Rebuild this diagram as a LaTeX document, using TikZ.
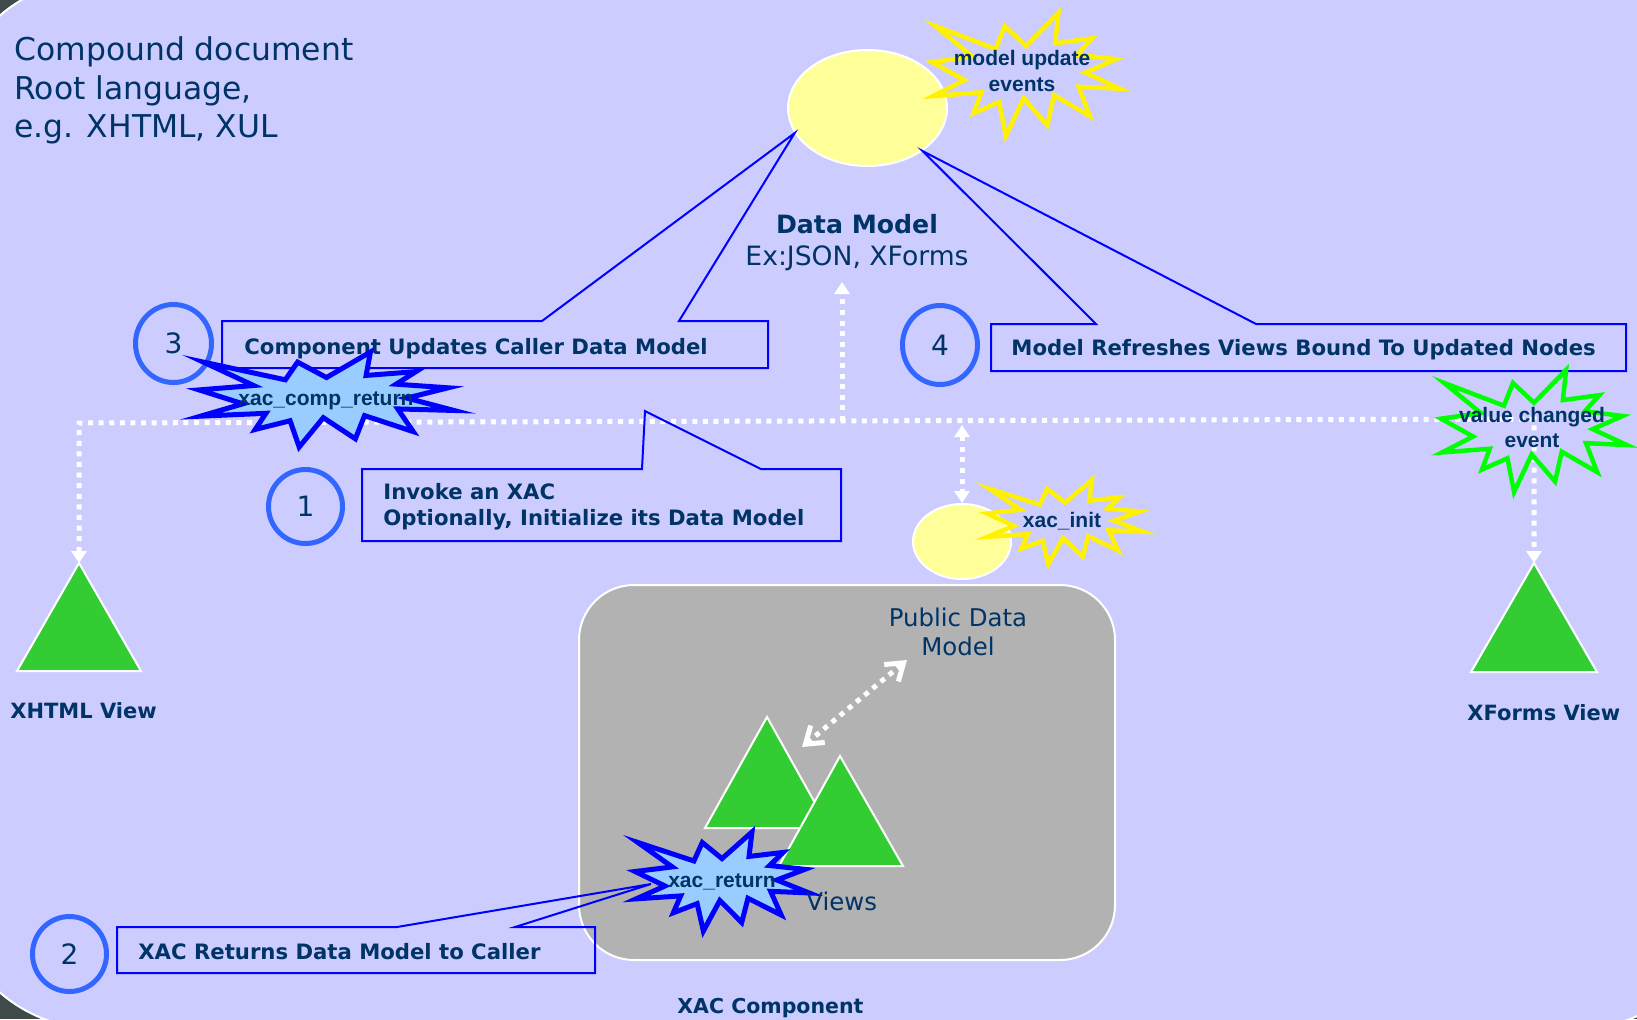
\documentclass[tikz,border=0pt]{standalone}
\usepackage{fontspec}
\setmainfont{DejaVu Sans}
\newfontfamily\burstfont{Liberation Sans}
\usetikzlibrary{arrows.meta,shapes.geometric}

\definecolor{lav}{HTML}{CCCCFF}
\definecolor{navy}{HTML}{003366}
\definecolor{ringblue}{HTML}{3366FF}
\definecolor{calloutblue}{HTML}{0000FF}
\definecolor{viewgreen}{HTML}{33CC33}
\definecolor{modelyellow}{HTML}{FFFF99}
\definecolor{boxgray}{HTML}{B2B2B2}
\definecolor{burstfill}{HTML}{99CCFF}
\definecolor{outside}{HTML}{3F4B4A}

% Explosion outline fitted into the box (x,y) + (w,h); #2 names its centre
\newcommand\explosion[6]{%
  \begin{scope}[shift={(#3,#4)}, xscale=#5/216, yscale=#6/216]
    \draw[#1] (108,58) -- (145.22,0) -- (141.55,53.25) -- (183.80,44.57)
      -- (167.02,73.15) -- (210.97,81.37) -- (176.07,104.75) -- (216,132.90)
      -- (168.37,129.42) -- (181.45,180.95) -- (140.20,144.57) -- (132.47,197.37)
      -- (105.32,149.35) -- (84.85,216) -- (77.15,156.27) -- (47.62,176.17)
      -- (56.67,139.37) -- (1.35,145.87) -- (37.22,117.75) -- (0,86.15)
      -- (46.27,76.17) -- (3.70,22.95) -- (73.12,63.20) -- (83.52,22.95) -- cycle;
    \coordinate (#2) at (108,108);
  \end{scope}}

\begin{document}
\begin{tikzpicture}[x=0.5pt, y=-0.5pt,
  >={Triangle[length=6pt,width=7.5pt]},
  dotline/.style={draw=white, line width=2.5pt, dash pattern=on 2.5pt off 2.8pt},
  view/.style={fill=viewgreen, draw=white, line width=1pt},
  ring/.style={ellipse, draw=ringblue, line width=2.5pt, inner sep=0pt,
    text=navy, font=\fontsize{14pt}{16pt}\selectfont},
  callout/.style={draw=calloutblue, line width=1pt},
  lbl/.style={text=navy, inner sep=0pt, font=\bfseries\fontsize{10.6pt}{13pt}\selectfont},
  body/.style={text=navy, inner sep=0pt, font=\fontsize{12.2pt}{14pt}\selectfont},
  title/.style={text=navy, inner sep=0pt, font=\fontsize{15.7pt}{19pt}\selectfont},
  bursttxt/.style={text=navy, inner sep=0pt, font=\burstfont\bfseries\fontsize{10.5pt}{12pt}\selectfont},
  pale/.style={fill=modelyellow, draw=white, line width=1pt, ellipse, inner sep=0pt}
]
\useasboundingbox (0,0) rectangle (1637,1019);

% backdrop and the compound document area
\fill[outside] (0,0) rectangle (1637,1019);
\draw[fill=lav, draw=white, line width=1pt, rounded corners=75pt] (-52,-21) rectangle (1726,1029);

\node[title, anchor=base west] (t1) at (14,60) {Compound document};
\node[title, anchor=base west] (t2) at (14,99) {Root language,};
\node[title, anchor=base west] (t3) at (14,137) {e.g. XHTML, XUL};

% data model
\node[pale, minimum width=79.5pt, minimum height=58pt] (dm) at (867.5,108) {};
\node[text=navy, inner sep=0pt, anchor=base, font=\bfseries\fontsize{12.6pt}{15pt}\selectfont] (dmt) at (857,233) {Data Model};
\node[text=navy, inner sep=0pt, anchor=base, font=\fontsize{13.3pt}{15pt}\selectfont] (dmx) at (857,265) {Ex:JSON, XForms};

% XAC component box
\node[fill=boxgray, draw=white, line width=1pt, rounded corners=27.5pt,
  minimum width=268pt, minimum height=187.5pt, inner sep=0pt] (xac) at (847,772.5) {};
\node[pale, minimum width=49pt, minimum height=37.5pt] (pdm) at (962,541.5) {};

% views
\coordinate (xhtmlApex) at (79,563);
\coordinate (xformsApex) at (1534,563);
\draw[view] (xhtmlApex) -- (17,671) -- (141,671) -- cycle;
\draw[view] (xformsApex) -- (1471,672) -- (1597,672) -- cycle;
\draw[view] (767,717) -- (705,828) -- (829,828) -- cycle;
\draw[view] (840,756) -- (779,866) -- (903,866) -- cycle;

% event bus
\coordinate (busL) at (79,423);
\coordinate (busR) at (1534,419);
\coordinate (busUp) at (842,421);
\coordinate (dmIn) at (842,282);
\coordinate (busInit) at (962,425);
\coordinate (viewsIn) at (802,747);
\coordinate (pubIn) at (907,660);
\draw[dotline, <->] (xhtmlApex) -- (busL) -- (busR) -- (xformsApex);
\draw[dotline, ->] (busUp) -- (dmIn);
\draw[dotline, <->] (busInit) -- (pdm.north);
\draw[dotline, {Straight Barb[length=8pt,width=11pt]}-{Straight Barb[length=8pt,width=11pt]}] (viewsIn) -- (pubIn);

% callouts
\coordinate (tip1) at (645,411);
\coordinate (tip2) at (651,884);
\draw[callout] (222,321) -- (542,321) -- (dm.199) -- (679,321) -- (768,321) -- (768,368) -- (222,368) -- cycle;
\draw[callout] (362,469) -- (642,469) -- (tip1) -- (761,469) -- (841,469) -- (841,541) -- (362,541) -- cycle;
\draw[callout] (991,324) -- (1096,324) -- (dm.322) -- (1256,324) -- (1626,324) -- (1626,371) -- (991,371) -- cycle;
\draw[callout] (117,927) -- (397,927) -- (tip2) -- (515,927) -- (595,927) -- (595,973) -- (117,973) -- cycle;

\node[lbl, anchor=base west] (c3) at (244,354) {Component Updates Caller Data Model};
\node[lbl, anchor=base west] (c1a) at (383,499) {Invoke an XAC};
\node[lbl, anchor=base west] (c1b) at (383,525) {Optionally, Initialize its Data Model};
\node[lbl, anchor=base west] (c4) at (1011,355) {Model Refreshes Views Bound To Updated Nodes};
\node[lbl, anchor=base west] (c2) at (138,959) {XAC Returns Data Model to Caller};

% step numbers
\node[ring, minimum width=38pt, minimum height=39pt] (n3) at (173.5,343.5) {3};
\node[ring, minimum width=37pt, minimum height=37pt] (n1) at (305.5,506.5) {1};
\node[ring, minimum width=37.5pt, minimum height=39.5pt] (n4) at (940,345) {4};
\node[ring, minimum width=37pt, minimum height=37.5pt] (n2) at (69.5,954) {2};

% events
\explosion{draw=yellow, line width=2.25pt}{bModel}{932}{13}{188}{123}
\explosion{draw=green, line width=2.25pt}{bValue}{1441}{370}{186}{122}
\explosion{draw=yellow, line width=2.25pt}{bInit}{987}{480}{156}{84}
\explosion{draw=calloutblue, fill=burstfill, line width=2.5pt}{bComp}{199}{352}{255}{95}
\explosion{draw=calloutblue, fill=burstfill, line width=2.5pt}{bRet}{635}{832}{174}{99}

\node[bursttxt, anchor=base] (e1a) at (1022,65) {model update};
\node[bursttxt, anchor=base] (e1b) at (1022,91) {events};
\node[bursttxt, anchor=base] (e2a) at (1532,422) {value changed};
\node[bursttxt, anchor=base] (e2b) at (1532,447) {event};
\node[bursttxt, anchor=base] (e3) at (1062,527) {xac\_init};
\node[bursttxt, anchor=base] (e4) at (326,405) {xac\_comp\_return};
\node[bursttxt, anchor=base] (e5) at (722,887) {xac\_return};

% component labels
\node[body, anchor=base] (pd1) at (958,626) {Public Data};
\node[body, anchor=base] (pd2) at (958,655) {Model};
\node[body, anchor=base west] (vw) at (806,910) {Views};

\node[lbl, anchor=base west, font=\bfseries\fontsize{10.5pt}{13pt}\selectfont] (lx) at (10,718) {XHTML View};
\node[lbl, anchor=base west, font=\bfseries\fontsize{10.5pt}{13pt}\selectfont] (lf) at (1467,720) {XForms View};
\node[lbl, anchor=base west, font=\bfseries\fontsize{10.25pt}{13pt}\selectfont] (lc) at (677,1013) {XAC Component};
\end{tikzpicture}
\end{document}
